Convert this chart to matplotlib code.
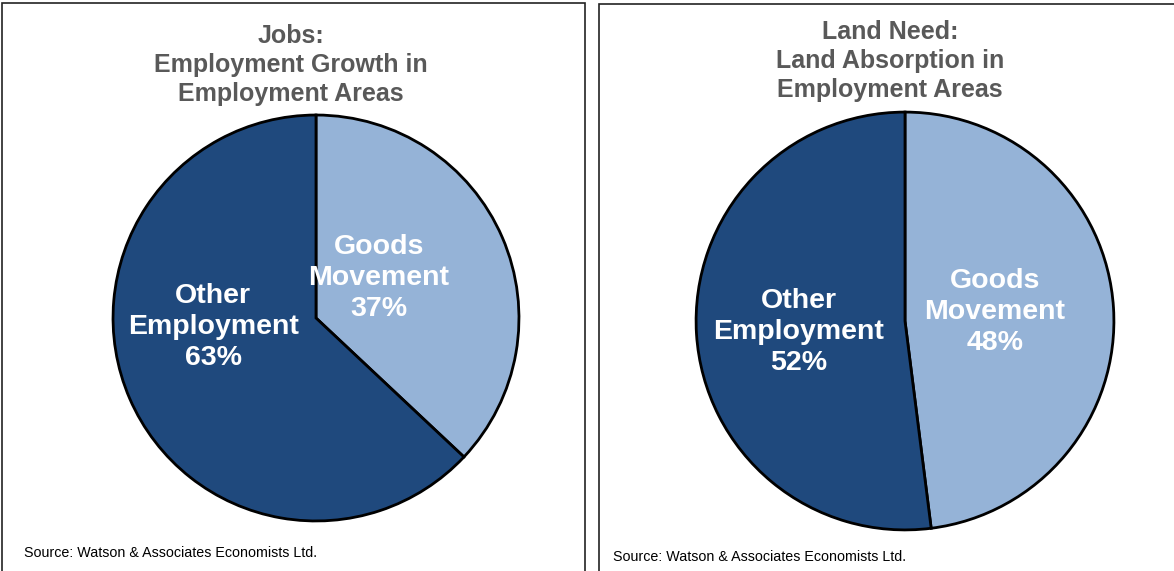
import matplotlib.pyplot as plt
from matplotlib.patches import Rectangle

plt.rcParams["font.family"] = ["Liberation Sans", "DejaVu Sans"]

# data
CATEGORIES = ["Goods\nMovement", "Other\nEmployment"]
JOBS_SHARE = [37, 63]
LAND_SHARE = [48, 52]
TITLES = ["Jobs:\nEmployment Growth in\nEmployment Areas",
          "Land Need:\nLand Absorption in\nEmployment Areas"]
SOURCE = "Source: Watson & Associates Economists Ltd."

COLORS = ["#95B3D7", "#1F497D"]
TITLE_COLOR = "#595959"

W, H = 1174, 571
fig = plt.figure(figsize=(W / 100, H / 100), dpi=100)
fig.patch.set_facecolor("white")


def px_axes(cx, cy, r):
    return fig.add_axes([(cx - r) / W, (H - cy - r) / H, 2 * r / W, 2 * r / H])


# panel frames
fig.add_artist(Rectangle((2 / W, -0.01), 583 / W, (H - 3) / H + 0.01,
                         transform=fig.transFigure, fill=False, lw=1.2, ec="#222222"))
fig.add_artist(Rectangle((599 / W, -0.01), 600 / W, (H - 4) / H + 0.01,
                         transform=fig.transFigure, fill=False, lw=1.2, ec="#222222"))

panels = [
    dict(vals=JOBS_SHARE, cx=316, cy=318, r=205, tx=291, ty=36,
         lab_pos=[(0.31, 0.195), (-0.507, -0.044)], sx=24, sy=553),
    dict(vals=LAND_SHARE, cx=905, cy=321, r=211, tx=890, ty=32,
         lab_pos=[(0.43, 0.043), (-0.51, -0.052)], sx=613, sy=557),
]

for p, title in zip(panels, TITLES):
    ax = px_axes(p["cx"], p["cy"], p["r"])
    ax.pie(p["vals"], colors=COLORS, startangle=90, counterclock=False,
           radius=1.0, wedgeprops=dict(edgecolor="black", linewidth=2))
    ax.set_xlim(-1.01, 1.01)
    ax.set_ylim(-1.01, 1.01)
    ax.set_aspect("equal")
    ax.axis("off")
    for cat, v, (lx, ly) in zip(CATEGORIES, p["vals"], p["lab_pos"]):
        ax.text(lx, ly, f"{cat}\n{v}%", ha="center", va="center", color="white",
                fontsize=20.5, fontweight="bold", linespacing=1.25)

    for i, line in enumerate(title.split("\n")):
        fig.text(p["tx"] / W, 1 - (p["ty"] + 29 * i) / H, line, ha="center", va="center",
                 fontsize=18, fontweight="bold", color=TITLE_COLOR)

    fig.text(p["sx"] / W, 1 - p["sy"] / H, SOURCE, ha="left", va="center",
             fontsize=10.3, color="black")

fig.savefig("out.png", dpi=100)
